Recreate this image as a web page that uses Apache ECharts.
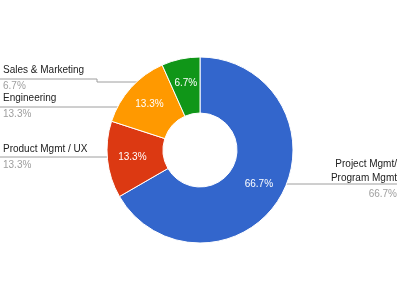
<!DOCTYPE html>
<html><head><meta charset="utf-8">
<script src="https://cdn.jsdelivr.net/npm/echarts@6/dist/echarts.min.js"></script>
<style>html,body{margin:0;padding:0;background:#fff}#c{width:400px;height:300px}</style>
</head><body><div id="c"></div>
<script>
// ---- data ----
const categories = ['Project Mgmt/\nProgram Mgmt', 'Product Mgmt / UX', 'Engineering', 'Sales & Marketing'];
const counts = [10, 2, 2, 1];
const colors = ['#3366cc', '#dc3912', '#ff9900', '#109618'];

// ---- label placement (layout only) ----
const labelPlacement = [
  { align: 'right', x: 397, y: 180, line: [[285, 184], [340, 184], [397, 184]] },
  { align: 'left', x: 3, y: 158, line: [[110, 157], [60, 157], [0, 157]] },
  { align: 'left', x: 3, y: 107, line: [[143, 107], [70, 107], [0, 107]] },
  { align: 'left', x: 3, y: 79, line: [[168, 82], [97, 82], [97, 79], [0, 79]] }
];

const FONT = 'Arial, "Liberation Sans", sans-serif';
const chart = echarts.init(document.getElementById('c'), null, { renderer: 'canvas' });

const data = categories.map((c, i) => ({ name: c, value: counts[i], itemStyle: { color: colors[i] } }));

chart.setOption({
  animation: false,
  backgroundColor: '#fff',
  textStyle: { fontFamily: FONT },
  series: [
    {
      type: 'pie',
      center: ['50%', '50%'],
      radius: [37, 93],
      startAngle: 90,
      clockwise: true,
      percentPrecision: 1,
      silent: true,
      itemStyle: { borderColor: '#fff', borderWidth: 1 },
      emphasis: { disabled: true },
      label: {
        show: true,
        position: 'outside',
        overflow: 'none',
        fontFamily: FONT,
        formatter: function (p) {
          const right = labelPlacement[p.dataIndex].align === 'right';
          const n = right ? 'nr' : 'n';
          const v = right ? 'vr' : 'v';
          return p.name.split('\n').map(s => '{' + n + '|' + s + '}').join('\n') + '\n{' + v + '|' + p.percent + '%}';
        },
        rich: {
          n: { fontSize: 10, color: '#222', lineHeight: 14, fontFamily: FONT },
          v: { fontSize: 10, color: '#9e9e9e', lineHeight: 18, fontFamily: FONT },
          nr: { fontSize: 10, color: '#222', lineHeight: 14, align: 'right', fontFamily: FONT },
          vr: { fontSize: 10, color: '#9e9e9e', lineHeight: 18, align: 'right', fontFamily: FONT }
        }
      },
      labelLine: { show: true, lineStyle: { color: '#9e9e9e', width: 1 } },
      labelLayout: function (params) {
        const pl = labelPlacement[params.dataIndex];
        return {
          x: pl.x,
          y: pl.y,
          align: pl.align,
          verticalAlign: 'middle',
          labelLinePoints: pl.line
        };
      },
      data: data
    },
    {
      type: 'pie',
      center: ['50%', '50%'],
      radius: [37, 93],
      startAngle: 90,
      clockwise: true,
      percentPrecision: 1,
      silent: true,
      z: 3,
      emphasis: { disabled: true },
      itemStyle: { color: 'rgba(0,0,0,0)', borderWidth: 0 },
      label: {
        show: true,
        position: 'inside',
        formatter: '{d}%',
        color: '#fff',
        fontSize: 10,
        fontFamily: FONT
      },
      labelLine: { show: false },
      data: categories.map((c, i) => ({ name: c, value: counts[i] }))
    }
  ]
});
</script>
</body></html>
